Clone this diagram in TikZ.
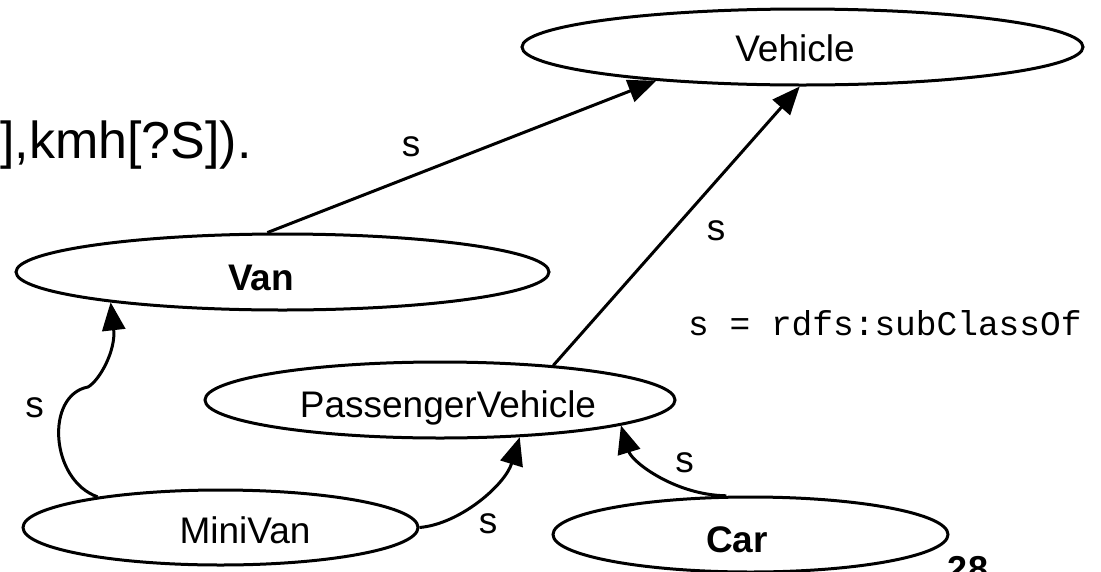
\documentclass[tikz,border=0pt]{standalone}
\usepackage{fontspec}
\setmainfont{Liberation Sans}
\newfontfamily\monofont{Liberation Mono}
\usetikzlibrary{arrows.meta,shapes.geometric}
\begin{document}
\begin{tikzpicture}[x=1pt,y=-1pt,
  cls/.style={ellipse,draw,line width=3pt,inner sep=0pt},
  txt/.style={anchor=base,inner sep=0pt,font=\fontsize{37}{44}\selectfont},
  btxt/.style={txt,font=\bfseries\fontsize{37}{44}\selectfont},
  rel/.style={line width=3pt,-{Triangle[length=28pt,width=23pt]}},
]
\clip (0,0) rectangle (1101,571);
\fill[white] (0,0) rectangle (1101,571);

% class ellipses
\node[cls,minimum width=561pt,minimum height=76pt] (vehicle) at (802.5,47) {};
\node[cls,minimum width=533pt,minimum height=76pt] (van) at (282.5,272) {};
\node[cls,minimum width=470pt,minimum height=76pt] (pv) at (440,400) {};
\node[cls,minimum width=395pt,minimum height=75pt] (minivan) at (220.5,527.5) {};
\node[cls,minimum width=395pt,minimum height=75pt] (car) at (750.5,534.5) {};

% class names
\node[txt] (vehicleT) at (795,61) {Vehicle};
\node[btxt] (vanT) at (261,290) {Van};
\node[txt] (pvT) at (448,417) {PassengerVehicle};
\node[txt] (minivanT) at (245,543) {MiniVan};
\node[btxt] (carT) at (737,552) {Car};

% connectors
\draw[rel] (van.111) -- (vehicle.193);
\draw[rel] (pv.17) -- (vehicle.266);
\draw[rel] (minivan.166) .. controls (50,480) and (45,395) .. (88,387)
  .. controls (100,380) and (116,350) .. (van.190);
\draw[rel] (minivan.east) .. controls (460,524) and (505,485) .. (pv.335);
\draw[rel] (car.122) .. controls (675,495) and (632,462) .. (pv.352);

% connector labels
\node[txt] (s1) at (411,156) {s};
\node[txt] (s2) at (716,240) {s};
\node[txt] (s3) at (34.5,417) {s};
\node[txt] (s4) at (488,533) {s};
\node[txt] (s5) at (684.5,472) {s};

% other texts
\node[txt,anchor=base west,font=\fontsize{52}{60}\selectfont] (rule) at (0,158) {],kmh[?S]).};
\node[txt,anchor=base west,font=\monofont\fontsize{34.5}{40}\selectfont] (legend) at (688,335) {s = rdfs:subClassOf};
\node[txt,font=\bfseries\fontsize{36}{42}\selectfont] (pagenum) at (968,581) {28};
\end{tikzpicture}
\end{document}
